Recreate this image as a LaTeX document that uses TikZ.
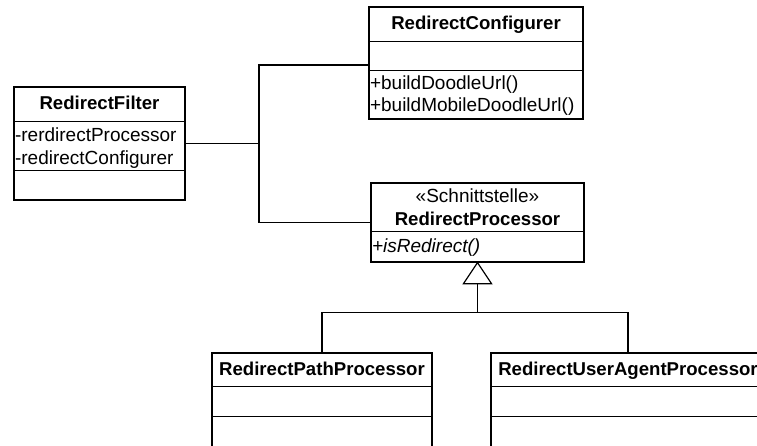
\documentclass[tikz,border=0pt]{standalone}
\usepackage{fontspec}
\setmainfont{Liberation Sans}
\begin{document}
\begin{tikzpicture}[x=1pt,y=-1pt,
  umlbox/.style={draw, line width=1.3pt, inner sep=0pt},
  lbl/.style={inner sep=0pt, font=\fontsize{19}{22}\selectfont},
  ttl/.style={inner sep=0pt, font=\fontsize{18.6}{22}\selectfont\bfseries},
  itl/.style={inner sep=0pt, font=\fontsize{19}{22}\selectfont\itshape},
  sep/.style={line width=1.3pt},
  conn/.style={line width=1.2pt}]
\useasboundingbox (0,0) rectangle (757,446);
\clip (0,0) rectangle (757,446);

% RedirectFilter
\node[umlbox, minimum width=171pt, minimum height=113pt] (filter) at (99.5,143.5) {};
\node[ttl, anchor=base] (filterT) at ([yshift=-23pt]filter.north) {RedirectFilter};
\draw[sep] ([yshift=-35pt]filter.north west) -- ([yshift=-35pt]filter.north east);
\draw[sep] ([yshift=-84pt]filter.north west) -- ([yshift=-84pt]filter.north east);
\node[lbl, anchor=base west] (filterA1) at ([xshift=1.5pt,yshift=-55pt]filter.north west) {-rerdirectProcessor};
\node[lbl, anchor=base west] (filterA2) at ([xshift=1.5pt,yshift=-78pt]filter.north west) {-redirectConfigurer};

% RedirectConfigurer
\node[umlbox, minimum width=214pt, minimum height=112pt] (conf) at (476,63) {};
\node[ttl, anchor=base] (confT) at ([yshift=-23pt]conf.north) {RedirectConfigurer};
\draw[sep] ([yshift=-35pt]conf.north west) -- ([yshift=-35pt]conf.north east);
\draw[sep] ([yshift=-64pt]conf.north west) -- ([yshift=-64pt]conf.north east);
\node[lbl, anchor=base west] (confM1) at ([xshift=1.5pt,yshift=-83pt]conf.north west) {+buildDoodleUrl()};
\node[lbl, anchor=base west] (confM2) at ([xshift=1.5pt,yshift=-105pt]conf.north west) {+buildMobileDoodleUrl()};

% RedirectProcessor
\node[umlbox, minimum width=213pt, minimum height=79pt] (proc) at (477.5,222.5) {};
\node[lbl, anchor=base] (procS) at ([yshift=-20.5pt]proc.north) {«Schnittstelle»};
\node[ttl, anchor=base] (procT) at ([yshift=-43pt]proc.north) {RedirectProcessor};
\draw[sep] ([yshift=-49pt]proc.north west) -- ([yshift=-49pt]proc.north east);
\node[itl, anchor=base west] (procM) at ([xshift=1.5pt,yshift=-70pt]proc.north west) {+isRedirect()};

% RedirectPathProcessor
\node[umlbox, minimum width=220pt, minimum height=94pt] (path) at (322,400) {};
\node[ttl, anchor=base] (pathT) at ([yshift=-23pt]path.north) {RedirectPathProcessor};
\draw[sep] ([yshift=-34pt]path.north west) -- ([yshift=-34pt]path.north east);
\draw[sep] ([yshift=-64pt]path.north west) -- ([yshift=-64pt]path.north east);

% RedirectUserAgentProcessor
\node[umlbox, minimum width=274pt, minimum height=94pt] (agent) at (628,400) {};
\node[ttl, anchor=base] (agentT) at ([yshift=-23pt]agent.north) {RedirectUserAgentProcessor};
\draw[sep] ([yshift=-34pt]agent.north west) -- ([yshift=-34pt]agent.north east);
\draw[sep] ([yshift=-64pt]agent.north west) -- ([yshift=-64pt]agent.north east);

% associations
\coordinate (jx) at (259,0);
\draw[conn] (filter.east) -- (filter.east -| jx);
\draw[conn] ([yshift=-2pt]conf.west) -| (jx |- proc.west) -- (proc.west);

% generalization
\draw[conn, fill=white] (proc.south) -- ++(-14,21) coordinate (triL) -- ++(28,0) coordinate (triR) -- cycle;
\coordinate (tribase) at ([yshift=-21pt]proc.south);
\coordinate (bus) at ([yshift=-29pt]tribase);
\draw[conn] (tribase) -- (bus);
\draw[conn] (path.north) |- (bus) -| (agent.north);
\end{tikzpicture}
\end{document}
